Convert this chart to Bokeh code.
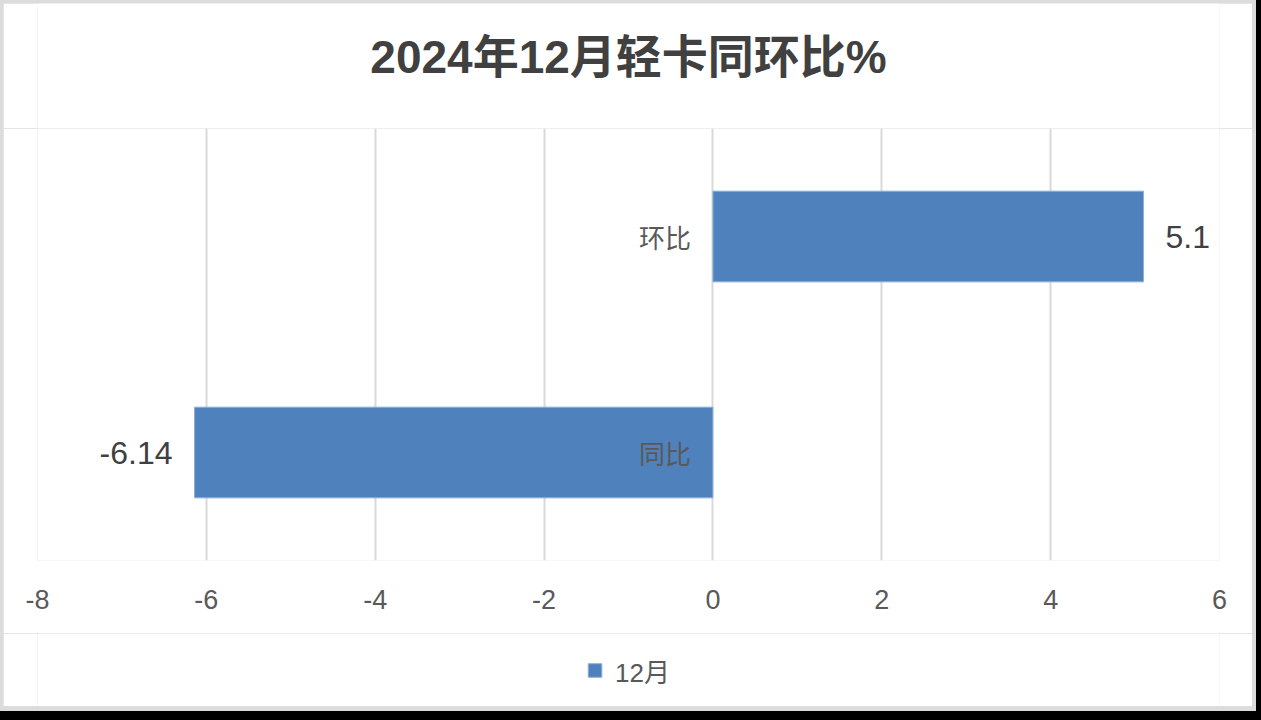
from bokeh.plotting import figure
from bokeh.layouts import column
from bokeh.models import (ColumnDataSource, FixedTicker, Range1d,
                          FactorRange, Legend, LegendItem)
from bokeh.core.properties import value
from bokeh.embed import file_html
from bokeh.resources import INLINE

# Light-truck growth rates for December 2024 (%)
categories = ["同比", "环比"]
values = [-6.14, 5.1]
series_name = "12月"
x_ticks = [-8, -6, -4, -2, 0, 2, 4, 6]
title_text = "2024年12月轻卡同环比%"

LATIN = "Liberation Sans"
CJK = "Noto Sans CJK SC"
FONT = f"{LATIN}, {CJK}"
BAR_COLOR = "#4f81bd"
BAR_EDGE = "#8fb0d8"
TEXT_GRAY = "#595959"
DARK = "#404040"
WIDTH = 1249


def strip(height):
    """A blank full-width panel used for the heading and the legend."""
    f = figure(width=WIDTH, height=height, x_range=Range1d(0, 1),
               y_range=Range1d(0, 1), output_backend="svg",
               toolbar_location=None, min_border=0, outline_line_color=None,
               background_fill_color="white", border_fill_color="white")
    f.axis.visible = False
    f.grid.visible = False
    return f


# heading
head = strip(125)
head.text(x=[0.5], y=[0.57], text=[title_text], text_align="center",
          text_baseline="middle", text_font=value(FONT),
          text_font_size="46px", text_font_style="bold", text_color=DARK)

src = ColumnDataSource(dict(
    cat=categories,
    val=values,
    label=[str(v) for v in values],
    align=["right" if v < 0 else "left" for v in values],
    off=[-22 if v < 0 else 22 for v in values],
    zero=[0] * len(values),
))

p = figure(
    width=WIDTH, height=505,
    y_range=FactorRange(*categories, range_padding=0),
    x_range=Range1d(x_ticks[0], x_ticks[-1]),
    output_backend="svg", toolbar_location=None,
    min_border_left=34, min_border_right=33,
    min_border_top=0, min_border_bottom=73,
    background_fill_color="white", border_fill_color="white",
    outline_line_color=None,
)

bars = p.hbar(y="cat", right="val", left=0, height=0.42, source=src,
              fill_color=BAR_COLOR, line_color=BAR_EDGE, line_width=1)

# value labels at the bar ends
p.text(x="val", y="cat", text="label", source=src, text_align="align",
       x_offset="off", text_baseline="middle", text_font=value(LATIN),
       text_font_size="32px", text_color=DARK)

# category names next to the zero line
p.text(x="zero", y="cat", text="cat", source=src, text_align="right",
       x_offset=-22, text_baseline="middle", text_font=value(CJK),
       text_font_size="26px", text_color=TEXT_GRAY)

p.yaxis.visible = False
p.ygrid.visible = False

p.xaxis.ticker = FixedTicker(ticks=x_ticks)
p.xaxis.major_label_overrides = {t: str(t) for t in x_ticks}
p.xaxis.axis_line_color = None
p.xaxis.major_tick_line_color = None
p.xaxis.minor_tick_line_color = None
p.xaxis.major_label_text_font_size = "27px"
p.xaxis.major_label_text_font = LATIN
p.xaxis.major_label_text_color = TEXT_GRAY
p.xaxis.major_label_standoff = 23

p.xgrid.ticker = FixedTicker(ticks=x_ticks)
p.xgrid.grid_line_color = "#d9d9d9"
p.xgrid.grid_line_width = 2

# legend strip under the chart; its swatch renderer sits outside the view
foot = strip(73)
swatch = foot.hbar(y=[2], right=values[:1], left=0, height=0.5,
                   fill_color=BAR_COLOR, line_color=BAR_EDGE, line_width=1)
legend = Legend(items=[LegendItem(label=series_name, renderers=[swatch])],
                location="center", orientation="horizontal",
                label_text_font=FONT, label_text_font_size="26px",
                label_text_color=TEXT_GRAY, glyph_width=17, glyph_height=17,
                border_line_color=None, background_fill_alpha=0,
                padding=0, margin=0, label_standoff=12)
foot.add_layout(legend)

layout = column(head, p, foot, spacing=0)

html = file_html(layout, INLINE)
page_css = ("<style>html{background:#000;}"
            "body{margin:0;background:#dcdcdc;padding:3px 4px 5px 3px;"
            "width:1249px;height:703px;box-sizing:content-box;}</style>")
html = html.replace("</head>", page_css + "</head>")
open("out.html", "w").write(html)
